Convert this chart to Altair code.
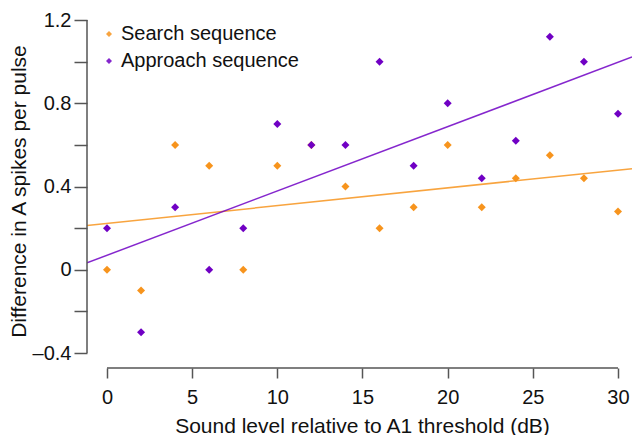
import altair as alt
import pandas as pd

# Sound level relative to A1 threshold (dB)
level_db = [0, 2, 4, 6, 8, 10, 12, 14, 16, 18, 20, 22, 24, 26, 28, 30]
# Difference in A spikes per pulse
search_diff = [0.0, -0.1, 0.6, 0.5, 0.0, 0.5, 0.6, 0.4, 0.2, 0.3, 0.6, 0.3, 0.44, 0.55, 0.44, 0.28]
approach_diff = [0.2, -0.3, 0.3, 0.0, 0.2, 0.7, 0.6, 0.6, 1.0, 0.5, 0.8, 0.44, 0.62, 1.12, 1.0, 0.75]

series_names = ["Search sequence", "Approach sequence"]
series_colors = ["#F7941D", "#7000C4"]

x_ticks = [0, 5, 10, 15, 20, 25, 30]
y_ticks = [-0.4, -0.2, 0.0, 0.2, 0.4, 0.6, 0.8, 1.0, 1.2]

X_DOMAIN = [-1.174, 30.822]
Y_DOMAIN = [-0.472, 1.2]
W, H = 545, 348
INK = "#111111"
AXIS_GREY = "#555555"
FONT = "Liberation Sans"

rows = []
for name, values in zip(series_names, [search_diff, approach_diff]):
    for x, y in zip(level_db, values):
        rows.append({"level": x, "diff": y, "series": name})
df = pd.DataFrame(rows)

color = alt.Color(
    "series:N",
    scale=alt.Scale(domain=series_names, range=series_colors),
    legend=alt.Legend(
        title=None,
        orient="none",
        legendX=12,
        legendY=4,
        symbolType="diamond",
        symbolSize=36,
        symbolStrokeWidth=0,
        labelFontSize=20,
        labelFont=FONT,
        labelColor=INK,
        labelOffset=2,
        labelLimit=400,
        rowPadding=7,
        padding=0,
    ),
)

x_enc = alt.X(
    "level:Q",
    scale=alt.Scale(domain=X_DOMAIN, nice=False, zero=False),
    axis=alt.Axis(
        values=x_ticks,
        domain=False,
        grid=False,
        tickSize=10,
        tickWidth=1.5,
        tickColor=AXIS_GREY,
        labelFontSize=20,
        labelFont=FONT,
        labelColor=INK,
        labelPadding=9,
        title="Sound level relative to A1 threshold (dB)",
        titleFontSize=21,
        titleFont=FONT,
        titleFontWeight="normal",
        titleColor=INK,
        titleBaseline="alphabetic",
        titleX=275,
        titleY=64,
    ),
)

y_enc = alt.Y(
    "diff:Q",
    scale=alt.Scale(domain=Y_DOMAIN, nice=False, zero=False),
    axis=alt.Axis(
        values=y_ticks,
        domain=False,
        grid=False,
        tickSize=13,
        tickWidth=1.5,
        tickColor=AXIS_GREY,
        labelFontSize=20,
        labelFont=FONT,
        labelColor=INK,
        labelPadding=3,
        labelExpr=(
            "abs(round(datum.value * 10)) % 4 != 0 ? '' : "
            "(datum.value < 0 ? '\u2013' + format(-datum.value, '.1f') : "
            "(datum.value == 0 ? '0' : format(datum.value, '.1f')))"
        ),
        title="Difference in A spikes per pulse",
        titleFontSize=21,
        titleFont=FONT,
        titleFontWeight="normal",
        titleColor=INK,
        titleBaseline="alphabetic",
        titleX=-62,
        titleY=171,
    ),
)

points = alt.Chart(df).mark_point(shape="diamond", filled=True, size=64, opacity=1).encode(
    x=x_enc, y=y_enc, color=color
)

fits = (
    alt.Chart(df)
    .transform_regression("level", "diff", groupby=["series"], extent=X_DOMAIN)
    .mark_line(strokeWidth=1.5, clip=True, opacity=0.85)
    .encode(x="level:Q", y="diff:Q", color=color)
)

# Axis lines spanning only the labelled ranges
x_line = alt.Chart(pd.DataFrame({"x0": [x_ticks[0]], "x1": [x_ticks[-1]]})).mark_rule(
    color=AXIS_GREY, strokeWidth=1.5
).encode(x="x0:Q", x2="x1:Q", y=alt.value(H))

y_line = alt.Chart(pd.DataFrame({"y0": [y_ticks[0]], "y1": [y_ticks[-1]]})).mark_rule(
    color=AXIS_GREY, strokeWidth=1.5
).encode(y="y0:Q", y2="y1:Q", x=alt.value(0))

chart = (
    alt.layer(fits, points, x_line, y_line)
    .properties(
        width=W,
        height=H,
        autosize=alt.AutoSizeParams(type="none"),
        padding={"left": 87, "top": 20, "right": 0, "bottom": 67},
        background="white",
    )
    .configure_view(stroke=None)
)

chart.save("out.html", embed_options={"renderer": "svg", "actions": False})
